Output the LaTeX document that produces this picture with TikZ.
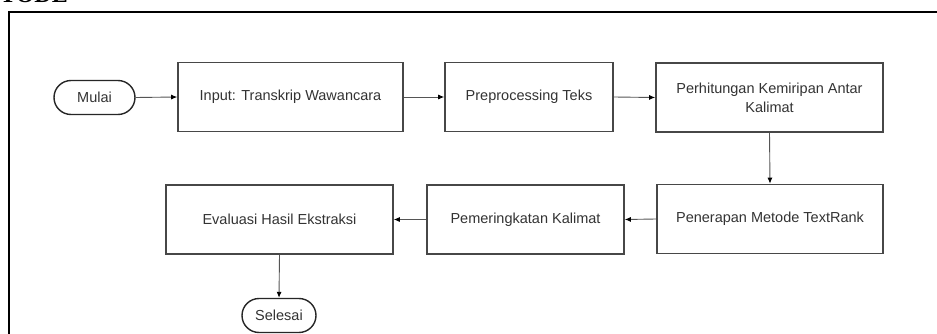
\documentclass[tikz,border=0pt]{standalone}
\usepackage{fontspec}
\setmainfont{Liberation Sans}
\newfontfamily\headfont{Liberation Serif}
\usetikzlibrary{shapes.misc,arrows.meta}
\definecolor{boxc}{HTML}{474747}
\definecolor{txtc}{HTML}{333333}
\definecolor{arrc}{HTML}{555555}
\begin{document}
\begin{tikzpicture}[x=1pt,y=-1pt,
  box/.style={draw=boxc, line width=1.6pt, minimum height=69pt, text=txtc,
    font=\fontsize{14.5}{19}\selectfont, align=center, inner sep=0pt},
  term/.style={draw=black!85, line width=1.4pt, rounded rectangle, minimum height=34pt,
    text=txtc, font=\fontsize{14.5}{17}\selectfont, inner sep=0pt},
  arr/.style={draw=arrc, line width=0.9pt, -{Latex[length=6pt,width=5pt,color=black]}}]
\useasboundingbox (0,0) rectangle (937,334);
\fill[white] (0,0) rectangle (937,334);
% clipped heading
\node[anchor=base east, font=\headfont\bfseries\fontsize{24}{28}\selectfont, inner sep=0pt] (head) at (68,3) {METODE};
% frame
\draw[line width=2.2pt, black] (9,345) -- (9,12) -- (945,12);
% nodes
\node[term, minimum width=81pt] (mulai) at (94.5,97.5) {Mulai};
\node[box, minimum width=225pt] (input) at (290.5,97) {Input: Transkrip Wawancara};
\node[box, minimum width=168pt] (prep) at (529,97) {Preprocessing Teks};
\node[box, minimum width=227pt] (perh) at (769.5,97.5) {Perhitungan Kemiripan Antar\\Kalimat};
\node[box, minimum width=226pt] (pene) at (770,219) {Penerapan Metode TextRank};
\node[box, minimum width=197pt] (pemr) at (525.5,219.5) {Pemeringkatan Kalimat};
\node[box, minimum width=227pt] (eval) at (279.5,219.5) {Evaluasi Hasil Ekstraksi};
\node[term, minimum width=74pt] (seles) at (279,315.5) {Selesai};
% connectors
\draw[arr] (mulai.east) -- (input.west);
\draw[arr] (input.east) -- (prep.west);
\draw[arr] (prep.east) -- (perh.west);
\draw[arr] (perh.south) -- (pene.north);
\draw[arr] (pene.west) -- (pemr.east);
\draw[arr] (pemr.west) -- (eval.east);
\draw[arr] (eval.south) -- (seles.north);
\end{tikzpicture}
\end{document}
